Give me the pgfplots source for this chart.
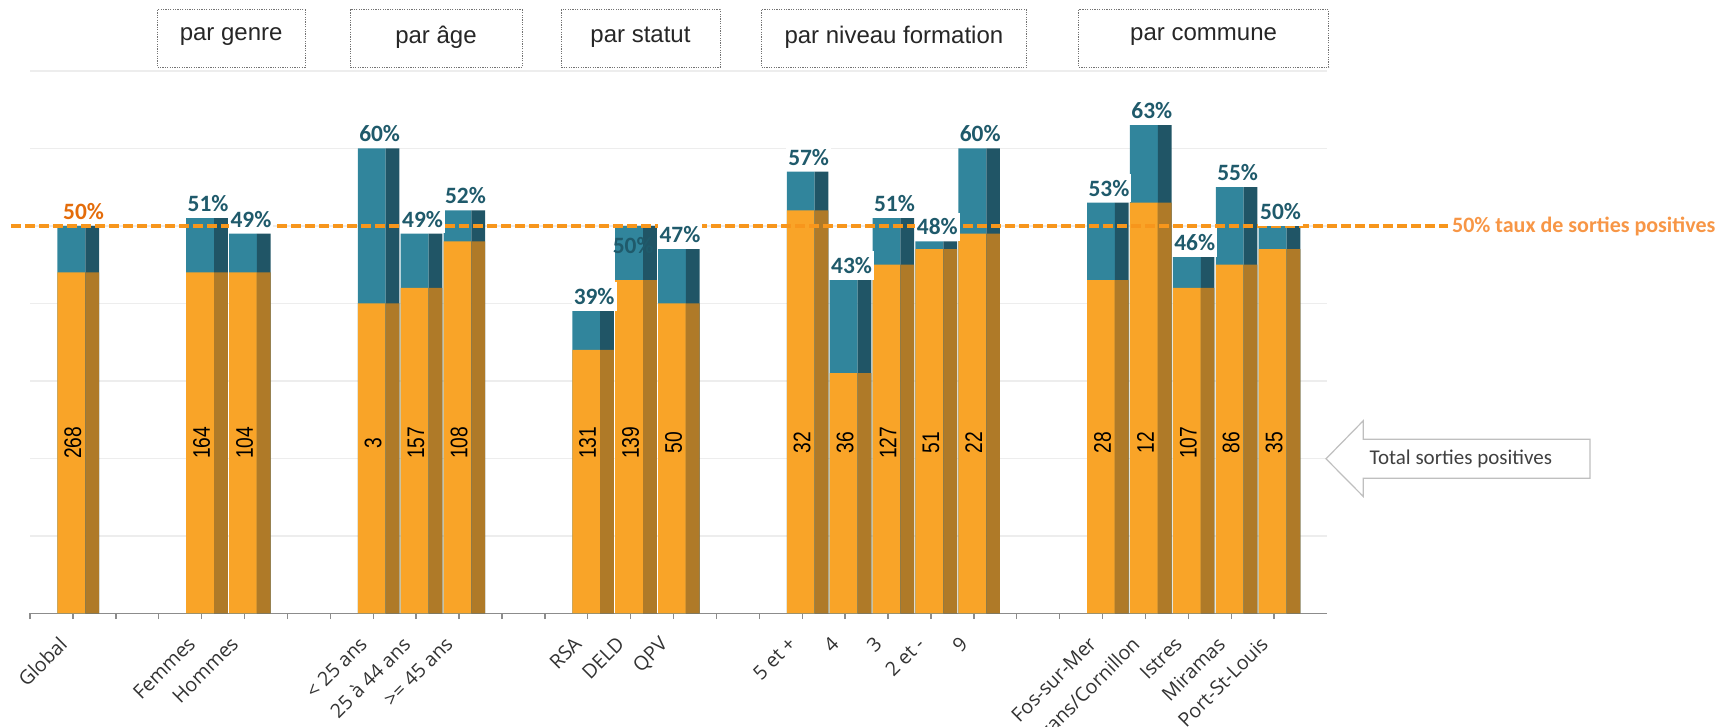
\documentclass[border=0pt]{standalone}
\usepackage{graphicx}
\usepackage{pgfplots}
\usepackage{pgfplotstable}
\pgfplotsset{compat=1.18}
\usepackage{fontspec}
\setmainfont{Liberation Sans}
\newfontfamily\calfont{Carlito}
\newfontfamily\osfont{Open Sans}
\definecolor{tealF}{HTML}{31859C}
\definecolor{tealS}{HTML}{205566}
\definecolor{orgF}{HTML}{F9A428}
\definecolor{orgS}{HTML}{AF7A28}
\definecolor{lblTeal}{HTML}{1F5A6B}
\definecolor{lblOrg}{HTML}{E46C0A}
\definecolor{dashOrg}{HTML}{F7961C}
\definecolor{rtOrg}{HTML}{F79646}
\definecolor{gridgray}{HTML}{EDEDED}
\definecolor{axgray}{HTML}{8C8C8C}

% x = slot, o = orange part (%), t = total (%), n = total sorties positives
\pgfplotstableread{
x  o  t  n
0  44 50 268
3  44 51 164
4  44 49 104
7  40 60 3
8  42 49 157
9  48 52 108
12 34 39 131
13 43 50 139
14 40 47 50
17 52 57 32
18 31 43 36
19 45 51 127
20 47 48 51
21 49 60 22
24 43 53 28
25 53 63 12
26 42 46 107
27 45 55 86
28 47 50 35
}\data

\begin{document}
\begin{tikzpicture}
\begin{axis}[
  at={(15pt,-306.65pt)}, anchor=south west,
  scale only axis, width=648.65pt, height=271.15pt,
  xmin=-1, xmax=29.24, ymin=0, ymax=70,
  clip=false,
  axis x line*=bottom, axis y line*=left,
  y axis line style={draw=none},
  ytick={10,20,...,70}, yticklabels={},
  ymajorgrids, grid style={color=gridgray, line width=0.8pt},
  ytick style={draw=none},
  xtick={-1,0,...,28},
  xticklabels={{},Global,{},{},Femmes,Hommes,{},{},{< 25 ans},{25 à 44 ans},{>= 45 ans},{},{},RSA,DELD,QPV,{},{},{5 et +},4,3,{2 et -},9,{},{},Fos-sur-Mer,Grans/Cornillon,Istres,Miramas,Port-St-Louis},
  x axis line style={color=axgray, line width=0.7pt},
  xtick style={color=axgray, line width=0.7pt},
  tick align=outside, major tick length=2.85pt,
  xticklabel style={font=\osfont\fontsize{9.8}{10}\selectfont, text=black!80, xshift=-7.5pt, yshift=-8pt, rotate=45, anchor=north east, inner sep=0pt},
]
% front faces
\addplot[ybar, bar width=0.65, bar shift=0pt, fill=tealF, draw=none] table[x expr=\thisrow{x}-0.035, y=t]{\data};
\addplot[ybar, bar width=0.65, bar shift=0pt, fill=orgF, draw=none] table[x expr=\thisrow{x}-0.035, y=o]{\data};
% side faces
\addplot[ybar, bar width=0.32, bar shift=0pt, fill=tealS, draw=none] table[x expr=\thisrow{x}+0.45, y=t]{\data};
\addplot[ybar, bar width=0.32, bar shift=0pt, fill=orgS, draw=none] table[x expr=\thisrow{x}+0.45, y=o]{\data};
% 50% reference line
\addplot[dashOrg, line width=1.65pt, dash pattern=on 5pt off 2pt] coordinates {(-1.44,50) (32.05,50)};
% numbers in bars
\addplot[draw=none, mark=none, nodes near coords={\scalebox{0.8}[1]{\pgfplotspointmeta}}, point meta=explicit symbolic,
  every node near coord/.append style={rotate=90, anchor=center, inner sep=0pt, font=\fontsize{12}{12}\selectfont, text=black}]
  table[x expr=\thisrow{x}, y expr=22.0, meta=n]{\data};
% percentage labels
\addplot[draw=none, mark=none, nodes near coords={\pgfplotspointmeta\%}, point meta=explicit symbolic,
  skip coords between index={0}{1}, skip coords between index={7}{8},
  every node near coord/.append style={anchor=south, fill=white, inner xsep=1pt, inner ysep=3pt, font=\calfont\bfseries\fontsize{11.7}{12}\selectfont, text=lblTeal}]
  table[x expr=\thisrow{x}+0.15, y=t, meta=t]{\data};
\addplot[draw=none, mark=none, nodes near coords={\pgfplotspointmeta\%}, point meta=explicit symbolic,
  every node near coord/.append style={anchor=south, inner xsep=1pt, inner ysep=3pt, font=\calfont\bfseries\fontsize{11.7}{12}\selectfont, text=lblOrg}]
  coordinates {(0.25,50) [50]};
\addplot[draw=none, mark=none, nodes near coords={\pgfplotspointmeta\%}, point meta=explicit symbolic,
  every node near coord/.append style={anchor=center, inner sep=0pt, font=\calfont\bfseries\fontsize{11.7}{12}\selectfont, text=lblTeal}]
  coordinates {(13.06,47.44) [50]};
\end{axis}
\begin{scope}[x=0.5pt, y=-0.5pt]
  % group boxes
  \foreach \a/\b/\t in {157.3/305/par genre, 350/522/par âge, 561/720/par statut, 761.3/1026.5/par niveau formation, 1078.6/1328.6/par commune}{
    \draw[black!55, line width=0.5pt, dash pattern=on 0.6pt off 0.6pt] (\a,10) rectangle (\b,67.3);
    \node[font=\fontsize{12}{13}\selectfont, text=black!85, inner sep=0pt] at ({(\a+\b)/2},37) {\t};
  }
  % right label of the reference line
  \node[anchor=west, inner sep=0pt, font=\calfont\bfseries\fontsize{11}{12}\selectfont, text=rtOrg] at (1451.7,226.7) {50\% taux de sorties positives};
  % callout arrow
  \draw[black!25, line width=0.6pt, fill=white] (1326,458.8) -- (1363.3,420.7) -- (1363.3,439.3) -- (1590,439.3) -- (1590,478.3) -- (1363.3,478.3) -- (1363.3,496.5) -- cycle;
  \node[anchor=west, inner sep=0pt, font=\calfont\fontsize{10.5}{12}\selectfont, text=black!75] at (1369.3,458.8) {Total sorties positives};
\end{scope}
\pgfresetboundingbox
\useasboundingbox (0,0) rectangle (867pt,-363.5pt);
\end{tikzpicture}
\end{document}
